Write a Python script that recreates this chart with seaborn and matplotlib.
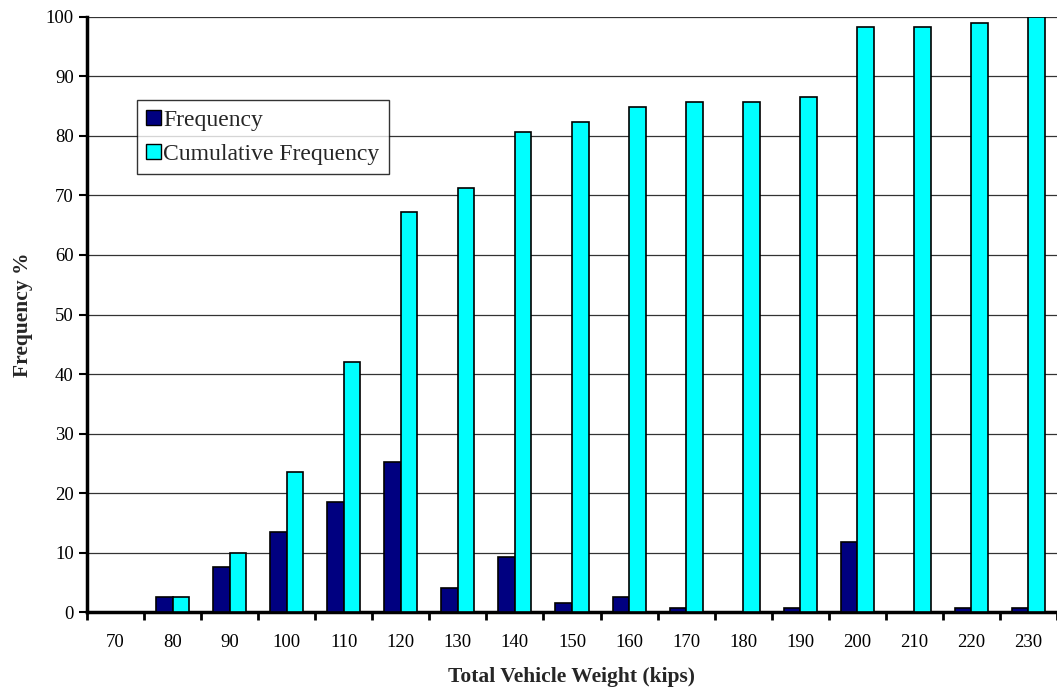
import matplotlib
matplotlib.use("Agg")
import matplotlib.pyplot as plt
import numpy as np
import pandas as pd
import seaborn as sns
from matplotlib.patches import Patch
from matplotlib.ticker import FixedLocator

weights = [70, 80, 90, 100, 110, 120, 130, 140, 150, 160, 170, 180, 190, 200, 210, 220, 230]
frequency = [0, 2.5, 7.5, 13.4, 18.5, 25.2, 4.1, 9.2, 1.6, 2.5, 0.7, 0, 0.7, 11.7, 0, 0.7, 0.7]
cumulative = [0, 2.5, 10.0, 23.5, 42.0, 67.2, 71.3, 80.6, 82.3, 84.8, 85.7, 85.7, 86.5, 98.3, 98.3, 99.0, 100.0]
series_names = ["Frequency", "Cumulative Frequency"]
series_colors = ["#000080", "#00FFFF"]

df = pd.DataFrame({
    "weight": [str(w) for w in weights] * 2,
    "value": frequency + cumulative,
    "series": [series_names[0]] * len(weights) + [series_names[1]] * len(weights),
})

sns.set_theme(style="white")
plt.rcParams["font.family"] = ["Liberation Serif", "DejaVu Serif"]

fig = plt.figure(figsize=(10.57, 6.90), dpi=100)
ax = fig.add_axes([0.0823, 0.113, 0.9177, 0.8624])

sns.barplot(data=df, x="weight", y="value", hue="series",
            palette=series_colors, width=0.58, edgecolor="black",
            linewidth=1.2, saturation=1, ax=ax, legend=False, zorder=3)

ax.set_xlim(-0.5, len(weights) - 0.5)
ax.set_ylim(0, 100)
ax.set_yticks(np.arange(0, 101, 10))
ax.yaxis.grid(True, color="#333333", linewidth=0.9, zorder=0)
ax.set_axisbelow(True)

for side in ["top", "right"]:
    ax.spines[side].set_visible(False)
for side in ["left", "bottom"]:
    ax.spines[side].set_color("black")
    ax.spines[side].set_linewidth(2.5)

# category labels at centres, tick marks on the boundaries between categories
ax.xaxis.set_minor_locator(FixedLocator(np.arange(-0.5, len(weights), 1.0)))
ax.tick_params(axis="x", which="major", length=0, labelsize=13.5, pad=16, colors="black")
ax.tick_params(axis="x", which="minor", length=6, width=2, color="black", direction="out", bottom=True)
ax.tick_params(axis="y", which="major", length=6, width=1.5, color="black", direction="out",
               labelsize=13.5, colors="black", left=True)

ax.set_xlabel("Total Vehicle Weight (kips)", fontsize=15.5, fontweight="bold", labelpad=11)
ax.set_ylabel("Frequency %", fontsize=15.5, fontweight="bold", labelpad=9)

handles = [Patch(facecolor=c, edgecolor="black", linewidth=1.0) for c in series_colors]
leg = ax.legend(handles, series_names, loc="upper left", bbox_to_anchor=(0.0515, 0.86),
                fontsize=17, frameon=True, fancybox=False, handlelength=0.6,
                handleheight=0.6, handletextpad=0.1, borderpad=0.4, labelspacing=0.55,
                borderaxespad=0)
leg.get_frame().set_edgecolor("black")
leg.get_frame().set_linewidth(1.0)
leg.set_zorder(5)

fig.savefig("out.png", dpi=100)
